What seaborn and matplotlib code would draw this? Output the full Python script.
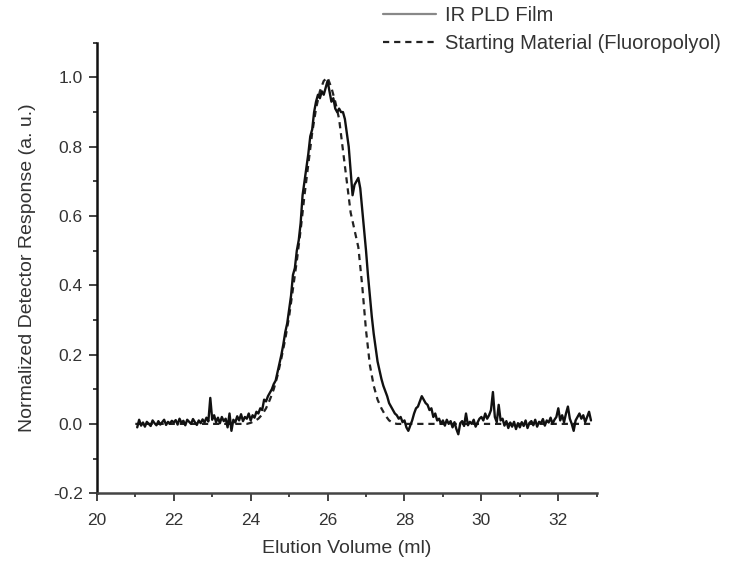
import numpy as np
import pandas as pd
import matplotlib
matplotlib.use("Agg")
import matplotlib.pyplot as plt
from matplotlib.lines import Line2D
from matplotlib.ticker import MultipleLocator
import seaborn as sns

# ---------------- data ----------------
film_label = "IR PLD Film"
start_label = "Starting Material (Fluoropolyol)"

# IR PLD film: sampled every 0.05 ml starting at 21.05 ml
film_x_start = 21.05
film_x_step = 0.05
film_y = [
    # 21.05 - 21.95
    -0.010, 0.012, -0.005, 0.004, -0.008, 0.006, 0.000, -0.006, 0.010, 0.002,
    -0.004, 0.008, -0.002, 0.005, 0.012, -0.003, 0.006, 0.001, 0.009,
    # 22.00 - 22.95
    0.004, 0.011, -0.002, 0.015, 0.003, 0.009, -0.004, 0.012, 0.006, 0.000,
    0.014, 0.005, -0.003, 0.010, 0.002, 0.013, 0.004, 0.018, 0.007, 0.075,
    # 23.00 - 23.95
    0.012, 0.025, 0.005, 0.018, 0.002, 0.020, 0.008, 0.015, -0.010, 0.030,
    -0.020, 0.012, 0.004, 0.022, 0.010, 0.028, 0.008, 0.020, 0.015, 0.030,
    # 24.00 - 24.95
    0.010, 0.025, 0.018, 0.035, 0.030, 0.045, 0.040, 0.070, 0.065, 0.080,
    0.090, 0.100, 0.115, 0.125, 0.150, 0.175, 0.200, 0.230, 0.265, 0.290,
    # 25.00 - 25.95
    0.330, 0.370, 0.430, 0.450, 0.500, 0.530, 0.580, 0.660, 0.700, 0.740,
    0.780, 0.830, 0.850, 0.900, 0.930, 0.950, 0.940, 0.960, 0.950, 0.970,
    # 26.00 - 26.95
    0.990, 0.960, 0.930, 0.940, 0.910, 0.900, 0.910, 0.900, 0.900, 0.880,
    0.840, 0.800, 0.730, 0.660, 0.690, 0.700, 0.710, 0.680, 0.620, 0.560,
    # 27.00 - 27.95
    0.500, 0.430, 0.370, 0.310, 0.260, 0.220, 0.180, 0.155, 0.130, 0.110,
    0.095, 0.080, 0.060, 0.050, 0.040, 0.030, 0.025, 0.015, 0.020, 0.005,
    # 28.00 - 28.95
    0.010, -0.010, -0.020, -0.005, 0.010, 0.030, 0.045, 0.050, 0.065, 0.080,
    0.070, 0.060, 0.055, 0.040, 0.045, 0.020, 0.030, 0.010, 0.015, 0.000,
    # 29.00 - 29.95
    0.010, -0.005, 0.012, 0.000, 0.008, -0.010, 0.005, -0.015, -0.030, 0.002,
    0.008, -0.006, 0.030, -0.004, 0.006, 0.000, 0.012, -0.008, 0.004, 0.015,
    # 30.00 - 30.95
    0.020, 0.010, 0.030, 0.015, 0.025, 0.040, 0.092, 0.020, 0.005, 0.055,
    0.010, 0.015, -0.005, 0.008, -0.012, 0.004, -0.008, 0.006, -0.015, 0.002,
    # 31.00 - 31.95
    -0.010, 0.005, -0.006, 0.010, -0.012, 0.003, 0.008, -0.004, 0.012, -0.008,
    0.006, 0.002, 0.014, -0.005, 0.010, 0.004, 0.018, 0.000, 0.012, 0.020,
    # 32.00 - 32.85
    0.045, 0.010, 0.025, 0.005, 0.030, 0.050, 0.015, 0.000, -0.020, 0.010,
    0.020, 0.030, 0.015, 0.025, 0.005, 0.020, 0.035, 0.010,
]

# Starting material: sampled every 0.1 ml starting at 21.0 ml
start_x_start = 21.0
start_x_step = 0.1
start_y = [
    # 21.0 - 21.9
    0, 0, 0, 0, 0, 0, 0, 0, 0, 0,
    # 22.0 - 22.9
    0, 0, 0, 0, 0, 0, 0, 0, 0, 0,
    # 23.0 - 23.9
    0, 0, 0, 0, 0, 0, 0, 0, 0, 0.0,
    # 24.0 - 24.9
    0.003, 0.008, 0.015, 0.027, 0.045, 0.070, 0.100, 0.140, 0.190, 0.245,
    # 25.0 - 25.9
    0.310, 0.390, 0.470, 0.560, 0.660, 0.750, 0.840, 0.910, 0.960, 0.990,
    # 26.0 - 26.9
    1.000, 0.970, 0.930, 0.880, 0.790, 0.700, 0.610, 0.560, 0.510, 0.400,
    # 27.0 - 27.9
    0.270, 0.170, 0.110, 0.070, 0.045, 0.025, 0.010, 0.003, 0.0, 0.0,
    # 28.0 - 28.9
    0, 0, 0, 0, 0, 0, 0, 0, 0, 0,
    # 29.0 - 29.9
    0, 0, 0, 0, 0, 0, 0, 0, 0, 0,
    # 30.0 - 30.9
    0, 0, 0, 0, 0, 0, 0, 0, 0, 0,
    # 31.0 - 31.9
    0, 0, 0, 0, 0, 0, 0, 0, 0, 0,
    # 32.0 - 32.9
    0, 0, 0, 0, 0, 0, 0, 0, 0, 0,
]

x_ticks = [20, 22, 24, 26, 28, 30, 32]
y_ticks = [-0.2, 0.0, 0.2, 0.4, 0.6, 0.8, 1.0]
y_tick_labels = ["-0.2", "0.0", "0.2", "0.4", "0.6", "0.8", "1.0"]

film_x = np.round(film_x_start + film_x_step * np.arange(len(film_y)), 3)
start_x = np.round(start_x_start + start_x_step * np.arange(len(start_y)), 3)

df_film = pd.DataFrame({"x": film_x, "y": film_y})
df_start = pd.DataFrame({"x": start_x, "y": start_y})

# ---------------- plot ----------------
sns.set_style("ticks")
plt.rcParams["font.family"] = ["Liberation Sans", "DejaVu Sans"]
text_color = "#333333"

fig = plt.figure(figsize=(7.45, 5.63), dpi=100)
ax = fig.add_axes([0.130, 0.124, 0.671, 0.800])

sns.lineplot(data=df_start, x="x", y="y", ax=ax, color="#222222",
             linestyle=(0, (2.8, 2.2)), linewidth=1.6, sort=False)
sns.lineplot(data=df_film, x="x", y="y", ax=ax, color="#111111",
             linewidth=1.7, sort=False)

ax.set_xlim(20, 33)
ax.set_ylim(-0.2, 1.1)
ax.set_xticks(x_ticks)
ax.set_yticks(y_ticks)
ax.set_yticklabels(y_tick_labels)
ax.xaxis.set_minor_locator(MultipleLocator(1))
ax.yaxis.set_minor_locator(MultipleLocator(0.1))
ax.tick_params(axis="x", which="major", pad=8)
ax.tick_params(axis="y", which="major", pad=4)
ax.tick_params(axis="both", which="major", direction="out", length=6,
               width=1.2, labelsize=12.5, colors="#222222", labelcolor=text_color)
ax.tick_params(axis="both", which="minor", direction="out", length=3,
               width=1.2, colors="#222222")
ax.set_xlabel("Elution Volume (ml)", fontsize=14, color=text_color, labelpad=9)
ax.set_ylabel("Normalized Detector Response (a. u.)", fontsize=14,
              color=text_color, labelpad=12)

sns.despine(ax=ax)
ax.spines["left"].set_linewidth(1.8)
ax.spines["left"].set_color("#111111")
ax.spines["bottom"].set_linewidth(1.8)
ax.spines["bottom"].set_color("#444444")

handles = [
    Line2D([], [], color="#888888", linewidth=1.6),
    Line2D([], [], color="#222222", linewidth=1.6, linestyle=(0, (2.8, 2.2))),
]
fig.legend(handles, [film_label, start_label], loc="upper left",
           bbox_to_anchor=(0.490, 1.022), frameon=False, fontsize=14.5,
           handlelength=2.6, handletextpad=0.45, labelspacing=0.45,
           labelcolor=text_color)

fig.savefig("out.png", dpi=100, facecolor="white")
